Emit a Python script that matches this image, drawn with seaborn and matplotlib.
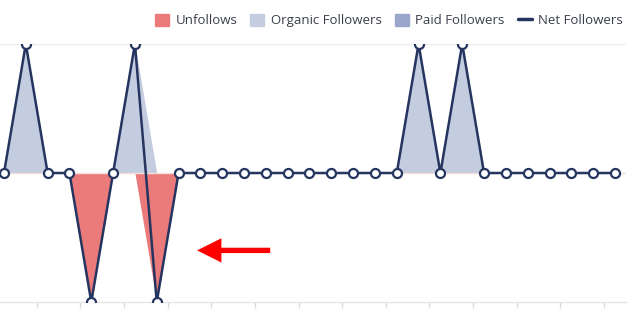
import matplotlib
matplotlib.use("Agg")
import matplotlib.pyplot as plt
import matplotlib.patches as mpatches
from matplotlib.lines import Line2D
import seaborn as sns
import pandas as pd

# ---- data ----
days = list(range(29))
unfollows = [0, 0, 0, 0, -1, 0, 0, -1, 0, 0, 0, 0, 0, 0, 0, 0, 0, 0, 0, 0, 0, 0, 0, 0, 0, 0, 0, 0, 0]
organic   = [0, 1, 0, 0, 0, 0, 1, 0, 0, 0, 0, 0, 0, 0, 0, 0, 0, 0, 0, 1, 0, 1, 0, 0, 0, 0, 0, 0, 0]
paid      = [0] * 29
net       = [0, 1, 0, 0, -1, 0, 1, -1, 0, 0, 0, 0, 0, 0, 0, 0, 0, 0, 0, 1, 0, 1, 0, 0, 0, 0, 0, 0, 0]
tick_pos  = [1.5, 3.5, 5.5, 7.5, 9.5, 11.5, 13.5, 15.5, 17.5, 19.5, 21.5, 23.5, 25.5, 27.5]
legend_labels = ["Unfollows", "Organic Followers", "Paid Followers", "Net Followers"]

c_unf = "#eb7b7b"
c_org = "#c4cce0"
c_paid = "#9aa6cb"
c_net = "#25355f"

df = pd.DataFrame({"day": days, "net": net})

sns.set_theme(style="white")
plt.rcParams["font.family"] = ["Open Sans", "DejaVu Sans"]

fig = plt.figure(figsize=(6.3, 3.12), dpi=100)
ax = fig.add_axes([0.0, 10 / 312, 626 / 630, (302 - 44) / 312])

ax.axhline(1, color="#ececec", lw=1, zorder=0)
ax.fill_between(days, 0, organic, color=c_org, lw=0, zorder=1)
ax.fill_between(days, 0, paid, color=c_paid, lw=0, zorder=1)
ax.fill_between(days, 0, unfollows, color=c_unf, lw=0, zorder=1)
ax.axhline(0, color="#f4dcdf", lw=1, zorder=1.5)

sns.lineplot(data=df, x="day", y="net", ax=ax, color=c_net, lw=1.8,
             marker="o", markersize=6.5, markerfacecolor="white",
             markeredgecolor=c_net, markeredgewidth=1.6, zorder=3)

ax.set_xlim(-4 / 21.82, 622 / 21.82)
ax.set_ylim(-1, 1)
ax.set_xlabel("")
ax.set_ylabel("")
ax.set_yticks([])
ax.set_xticks(tick_pos)
ax.set_xticklabels([])
ax.tick_params(axis="x", which="major", length=4, width=1, color="#dcdcdc", bottom=True)
for s in ["top", "right", "left"]:
    ax.spines[s].set_visible(False)
ax.spines["bottom"].set_color("#e6e6e6")
ax.spines["bottom"].set_linewidth(1)

# red arrow annotation
ax.annotate("", xy=(8.85, -0.6), xytext=(12.2, -0.6),
            arrowprops=dict(arrowstyle="simple,head_length=0.5,head_width=0.5,tail_width=0.11",
                            color="#ff0000", mutation_scale=35, shrinkA=0, shrinkB=0, lw=0))

handles = [mpatches.Patch(color=c_unf), mpatches.Patch(color=c_org),
           mpatches.Patch(color=c_paid), Line2D([0], [0], color=c_net, lw=2.5)]
fig.legend(handles, legend_labels, ncol=4, frameon=False, loc="upper right",
           bbox_to_anchor=(1.006, 0.99), fontsize=9.5, handlelength=1.05, handleheight=1.05,
           handletextpad=0.5, columnspacing=1.0, labelcolor="#3a3f4b",
           borderaxespad=0.4)

fig.savefig("out.png", dpi=100)
